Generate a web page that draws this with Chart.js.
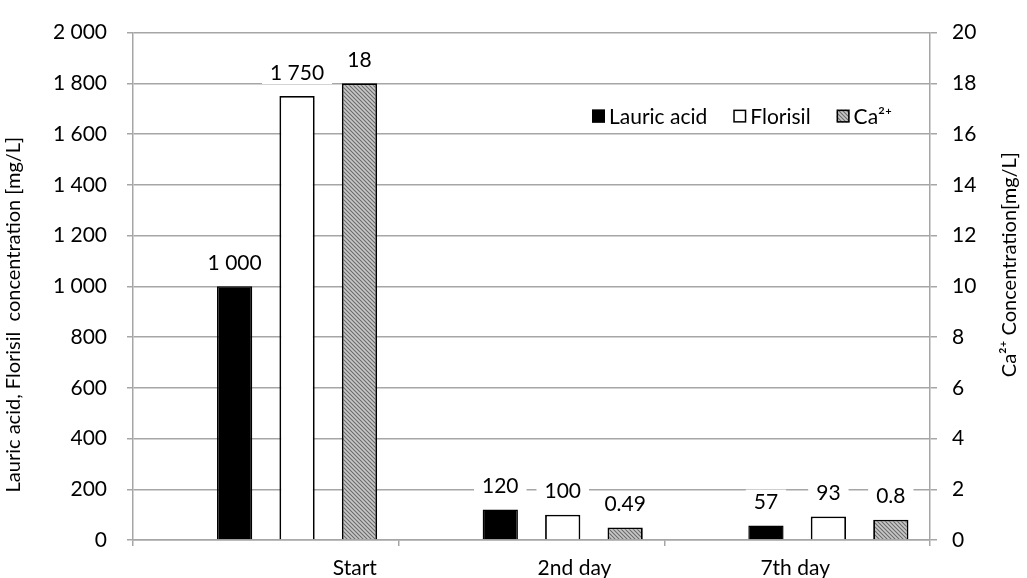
<!DOCTYPE html>
<html>
<head>
<meta charset="utf-8">
<script src="https://cdn.jsdelivr.net/npm/chart.js@4/dist/chart.umd.min.js"></script>
<style>
  html, body { margin: 0; padding: 0; background: #fff; }
  #holder { width: 1027px; height: 578px; position: relative; }
</style>
</head>
<body>
<div id="holder"><canvas id="chart"></canvas></div>
<script>
// data
categories = ['Start', '2nd day', '7th day'];
lauricAcid = [1000, 120, 57];
florisil = [1750, 100, 93];
calcium = [18, 0.49, 0.8];
leftTicks = [0, 200, 400, 600, 800, 1000, 1200, 1400, 1600, 1800, 2000];
rightTicks = [0, 2, 4, 6, 8, 10, 12, 14, 16, 18, 20];

var font = 'Lato';
var gridColour = '#a6a6a6';
// the category labels sit off-centre in the original
var labelShift = [89, 43, -2];

function spaced(v) {
  return String(v).replace(/\B(?=(\d{3})+(?!\d))/g, ' ');
}

function hatch() {
  var c = document.createElement('canvas');
  c.width = 4; c.height = 4;
  var g = c.getContext('2d');
  g.fillStyle = '#c8c8c8';
  g.fillRect(0, 0, 4, 4);
  g.strokeStyle = '#6a6a6a';
  g.lineWidth = 1.1;
  g.beginPath();
  g.moveTo(0, 0); g.lineTo(4, 4);
  g.moveTo(-1, 3); g.lineTo(1, 5);
  g.moveTo(3, -1); g.lineTo(5, 1);
  g.stroke();
  return g.createPattern(c, 'repeat');
}

var extras = {
  id: 'extras',
  afterDatasetsDraw: function(chart) {
    var ctx = chart.ctx;
    var area = chart.chartArea;
    ctx.save();
    ctx.font = '21px ' + font;
    ctx.textAlign = 'center';
    ctx.textBaseline = 'middle';

    // value labels with white boxes over the grid
    chart.data.datasets.forEach(function(ds, i) {
      if (ds.spacer) return;
      chart.getDatasetMeta(i).data.forEach(function(bar, j) {
        var txt = spaced(ds.data[j]);
        var w = ctx.measureText(txt).width + 16;
        var y = bar.y - 24;
        ctx.fillStyle = '#fff';
        ctx.fillRect(bar.x - w / 2, y - 12, w, 24);
        ctx.fillStyle = '#000';
        ctx.fillText(txt, bar.x, y + 1);
      });
    });

    // category labels
    var xs = chart.scales.x;
    categories.forEach(function(c, i) {
      ctx.fillText(c, xs.getPixelForValue(i) + labelShift[i], area.bottom + 28);
    });

    // legend inside the plot
    var lx = area.left + 459, ly = area.top + 84;
    ctx.textAlign = 'left';
    chart.data.datasets.forEach(function(ds) {
      if (ds.spacer) return;
      ctx.fillStyle = ds.backgroundColor;
      ctx.fillRect(lx, ly - 7, 13, 13);
      ctx.strokeStyle = '#000';
      ctx.lineWidth = 1.5;
      ctx.strokeRect(lx + 0.75, ly - 6.25, 11.5, 11.5);
      ctx.fillStyle = '#000';
      ctx.fillText(ds.label, lx + 17, ly + 1);
      lx += 17 + ctx.measureText(ds.label).width + 26;
    });

    // axis titles, both reading bottom to top
    ctx.font = '20px ' + font;
    ctx.textAlign = 'center';
    ctx.save();
    ctx.translate(14, area.top + 282);
    ctx.rotate(-Math.PI / 2);
    ctx.fillText('Lauric acid, Florisil  concentration [mg/L]', 0, 0);
    ctx.restore();
    ctx.save();
    ctx.translate(1010, area.top + 232);
    ctx.rotate(-Math.PI / 2);
    ctx.fillText('Ca\u00b2\u207a Concentration[mg/L]', 0, 0);
    ctx.restore();
    ctx.restore();
  }
};

var ctx = document.getElementById('chart').getContext('2d');
var pattern = hatch();

var chart = new Chart(ctx, {
  type: 'bar',
  data: {
    labels: categories,
    datasets: [
      { label: '', spacer: true, data: [null, null, null], yAxisID: 'y' },
      { label: 'Lauric acid', data: lauricAcid, yAxisID: 'y',
        backgroundColor: '#000', borderColor: '#000', borderWidth: 1.5 },
      { label: 'Florisil', data: florisil, yAxisID: 'y',
        backgroundColor: '#fff', borderColor: '#000', borderWidth: 1.8 },
      { label: 'Ca\u00b2\u207a', data: calcium, yAxisID: 'y2',
        backgroundColor: pattern, borderColor: '#000', borderWidth: 1.8 }
    ]
  },
  options: {
    responsive: true,
    maintainAspectRatio: false,
    animation: false,
    categoryPercentage: 0.94,
    barPercentage: 0.565,
    layout: { padding: { top: 24, left: 0, right: 0, bottom: 0 } },
    plugins: {
      legend: { display: false },
      tooltip: { enabled: false }
    },
    scales: {
      x: {
        offset: true,
        ticks: { display: false },
        grid: { offset: true, drawOnChartArea: false, tickLength: 6, color: gridColour, lineWidth: 1.5 },
        border: { color: gridColour, width: 1.5 },
        afterFit: function(s) { s.height = 38; }
      },
      y: {
        position: 'left',
        min: 0, max: 2000,
        afterBuildTicks: function(s) { s.ticks = leftTicks.map(function(v) { return { value: v }; }); },
        ticks: { padding: 20, color: '#000', font: { family: font, size: 21 },
          callback: function(v) { return spaced(v); } },
        grid: { color: gridColour, lineWidth: 1.5, tickLength: 6 },
        border: { color: gridColour, width: 1.5 },
        afterFit: function(s) { s.width = 133; }
      },
      y2: {
        position: 'right',
        min: 0, max: 20,
        afterBuildTicks: function(s) { s.ticks = rightTicks.map(function(v) { return { value: v }; }); },
        ticks: { padding: 15, color: '#000', font: { family: font, size: 21 } },
        grid: { drawOnChartArea: false, color: gridColour, lineWidth: 1.5, tickLength: 7 },
        border: { color: gridColour, width: 1.5 },
        afterFit: function(s) { s.width = 97; }
      }
    }
  },
  plugins: [extras]
});
</script>
</body>
</html>
